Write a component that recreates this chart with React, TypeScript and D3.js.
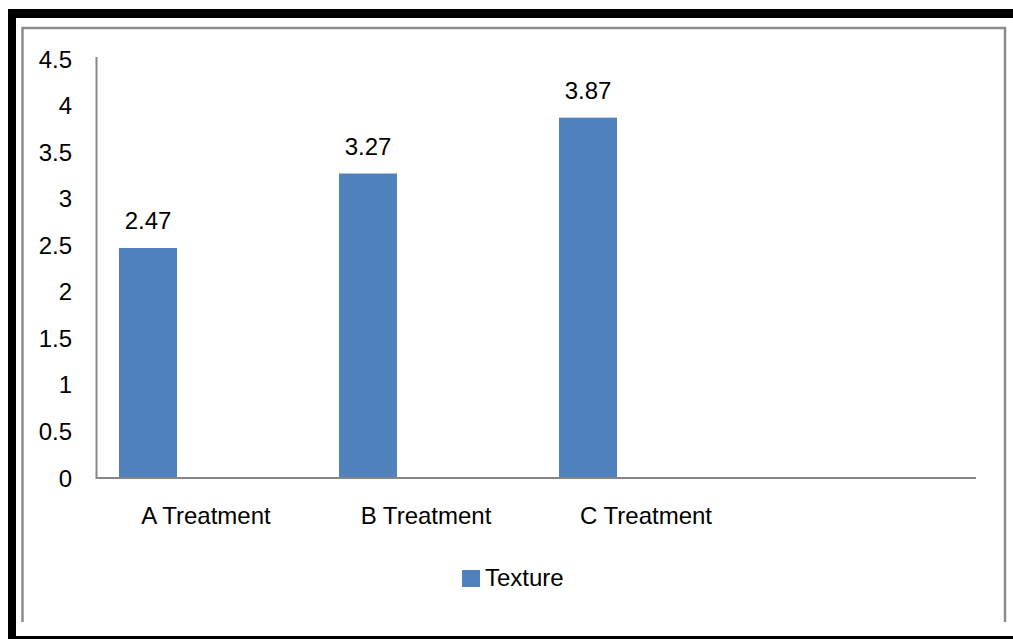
import React from "react";
import * as d3 from "d3";

const categories = ["A Treatment", "B Treatment", "C Treatment", ""];
const textureValues = [2.47, 3.27, 3.87, null];
const seriesNames = ["Texture", "", ""];
const yTicks = [0, 0.5, 1, 1.5, 2, 2.5, 3, 3.5, 4, 4.5];

const W = 1013;
const H = 639;
const FONT = "'Liberation Sans', Arial, sans-serif";

export default function App() {
  const x0 = 96, x1 = 976, yBase = 478, yTop = 59;
  const x = d3.scaleBand<string>().domain(categories.map((c, i) => String(i))).range([x0, x1]).paddingInner(0).paddingOuter(0);
  const y = d3.scaleLinear().domain([0, 4.5]).range([yBase, yTop]);
  const bw = x.bandwidth();
  const gap = bw * (46 / 220);
  const sub = d3.scaleBand<string>().domain(seriesNames.map((_, i) => String(i))).range([gap / 2, bw - gap / 2]).padding(0);

  return (
    <div style={{ position: "absolute", left: 0, top: 0, width: W, height: H }}>
      <svg width={W} height={H} style={{ display: "block" }}>
        <rect x={0} y={0} width={W} height={H} fill="#fff" />
        {/* black outer frame */}
        <rect x={8} y={9} width={1020} height={9} fill="#000" />
        <rect x={8} y={9} width={8} height={640} fill="#000" />
        <rect x={8} y={636} width={1020} height={4} fill="#000" />
        {/* gray chart area border */}
        <path d="M22.5,622 V28 H1005 V622" fill="none" stroke="#8c8c8c" strokeWidth={2.5} />
        {/* bars */}
        {textureValues.map((v, i) =>
          v == null ? null : (
            <rect key={i} x={(x(String(i)) as number) + (sub("0") as number)} y={y(v)} width={sub.bandwidth()} height={yBase - y(v)} fill="#4F81BD" />
          )
        )}
        {/* value labels */}
        {textureValues.map((v, i) =>
          v == null ? null : (
            <text key={i} x={(x(String(i)) as number) + (sub("0") as number) + sub.bandwidth() / 2} y={y(v) - 19} textAnchor="middle" fontFamily={FONT} fontSize={24} fill="#000">
              {v.toFixed(2)}
            </text>
          )
        )}
        {/* axes */}
        <line x1={96.5} y1={57} x2={96.5} y2={479} stroke="#868686" strokeWidth={2} />
        <line x1={96} y1={478} x2={976} y2={478} stroke="#868686" strokeWidth={2} />
        {yTicks.map((t) => (
          <text key={t} x={72} y={y(t) + 8.5} textAnchor="end" fontFamily={FONT} fontSize={24} fill="#000">
            {String(t)}
          </text>
        ))}
        {categories.map((c, i) => (
          <text key={i} x={(x(String(i)) as number) + bw / 2} y={524} textAnchor="middle" fontFamily={FONT} fontSize={24} fill="#000">
            {c}
          </text>
        ))}
        {/* legend */}
        <rect x={462} y={570} width={18} height={17} fill="#4F81BD" />
        <text x={485} y={586} fontFamily={FONT} fontSize={24} fill="#000">{seriesNames[0]}</text>
      </svg>
    </div>
  );
}
